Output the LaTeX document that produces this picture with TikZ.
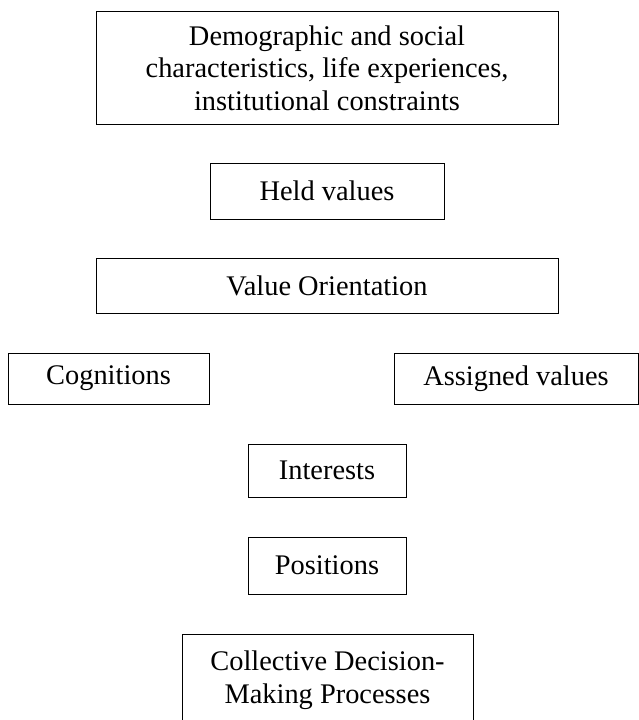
\documentclass[tikz,border=0pt]{standalone}
\usepackage{fontspec}
\setmainfont{Liberation Serif}
\tikzset{box/.style={draw,line width=0.9pt,inner sep=0pt,align=center,
	font=\fontsize{28.4}{32.5}\selectfont}}
\begin{document}
\begin{tikzpicture}[x=1pt,y=-1pt]
	\useasboundingbox (0,0) rectangle (639,720);
	\node[box,minimum width=462,minimum height=113] (demo) at (327,68) {Demographic and social\\characteristics, life experiences,\\institutional constraints};
	\node[box,minimum width=234,minimum height=56] (held) at (327,191) {Held values};
	\node[box,minimum width=462,minimum height=55] (orient) at (327,285.5) {Value Orientation};
	\node[box,minimum width=201,minimum height=51] (cogn) at (108.5,378.5) {Cognitions};
	\node[box,minimum width=244,minimum height=51] (assig) at (516,378.5) {Assigned values};
	\node[box,minimum width=158,minimum height=53] (inter) at (327,470.5) {Interests};
	\node[box,minimum width=158,minimum height=57] (posit) at (327,565.5) {Positions};
	\node[box,minimum width=291,minimum height=92] (collect) at (327.5,680) {Collective Decision-\\Making Processes};
\end{tikzpicture}
\end{document}
